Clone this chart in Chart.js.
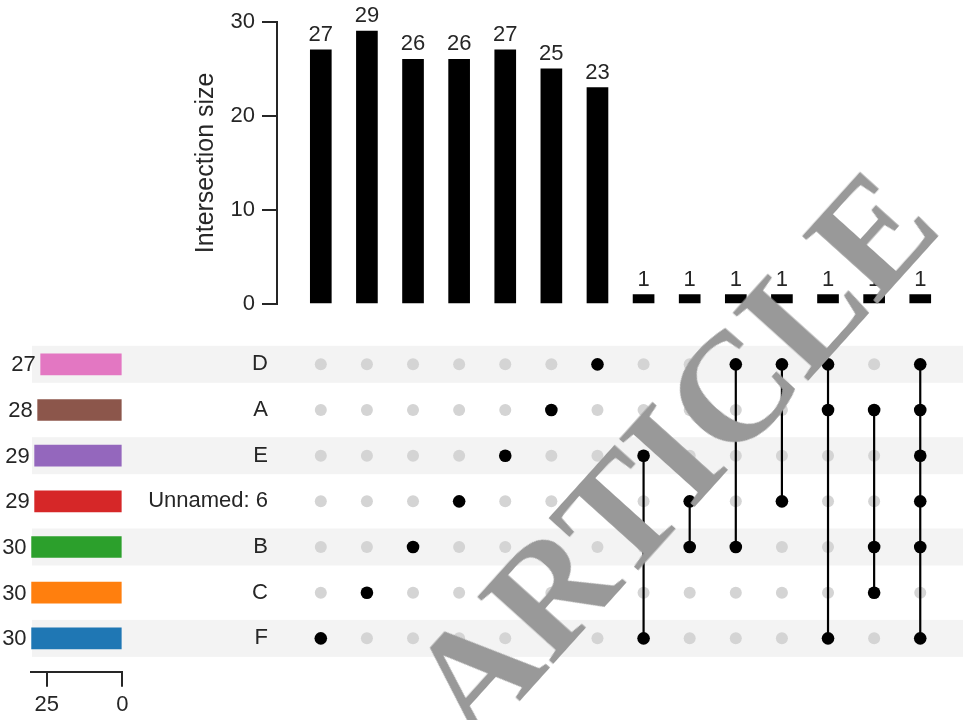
<!DOCTYPE html>
<html>
<head>
<meta charset="utf-8">
<script src="https://cdn.jsdelivr.net/npm/chart.js@4"></script>
<style>
  html, body { margin: 0; padding: 0; background: #fff; }
  #wrap { position: relative; width: 965px; height: 720px; overflow: hidden; background: #fff; }
  #wrap canvas { position: absolute; left: 0; top: 0; }
  #stamp {
    position: absolute; left: 672px; top: 455px;
    transform: translate(-50%, -50%) rotate(-48deg);
    font: bold 155px "Liberation Serif", "Times New Roman", serif;
    color: #999999; white-space: nowrap; line-height: 1; pointer-events: none;
  }
</style>
</head>
<body>
<div id="wrap">
  <canvas id="matrix" width="965" height="720"></canvas>
  <canvas id="inter" width="965" height="720"></canvas>
  <canvas id="sets" width="965" height="720"></canvas>
  <div id="stamp">ARTICLE</div>
</div>
<script>
// ---- data ----
const setNames = ['D', 'A', 'E', 'Unnamed: 6', 'B', 'C', 'F'];
const setSizes = [27, 28, 29, 29, 30, 30, 30];
const setColors = ['#e377c2', '#8c564b', '#9467bd', '#d62728', '#2ca02c', '#ff7f0e', '#1f77b4'];
const intersectionSizes = [27, 29, 26, 26, 27, 25, 23, 1, 1, 1, 1, 1, 1, 1];
const intersectionMembers = [
  ['F'], ['C'], ['B'], ['Unnamed: 6'], ['E'], ['A'], ['D'],
  ['E', 'F'], ['Unnamed: 6', 'B'], ['D', 'B'], ['D', 'Unnamed: 6'],
  ['D', 'A', 'F'], ['A', 'B', 'C'], ['D', 'A', 'E', 'Unnamed: 6', 'B', 'F']
];
const sizeTicks = [0, 10, 20, 30];
const setSizeTicks = [0, 25];

// ---- layout ----
const W = 965, H = 720;
const INK = '#262626';
const X_MIN = -0.95, X_MAX = 13.5;
const PLOT_LEFT = 277, PLOT_RIGHT = 943.3;
const ROW_TOP = 341.5, ROW_BOTTOM = 661.2;

Chart.defaults.font.family = '"Liberation Sans", Arial, Helvetica, sans-serif';
Chart.defaults.color = INK;

const common = {
  responsive: false,
  animation: false,
  events: [],
  devicePixelRatio: 1,
  plugins: { legend: { display: false }, tooltip: { enabled: false } }
};

// ---- membership matrix ----
const memberRows = intersectionMembers.map(m => m.map(n => setNames.indexOf(n)));
const grayPts = [], blackPts = [];
memberRows.forEach((rows, c) => {
  setNames.forEach((_, r) => (rows.includes(r) ? blackPts : grayPts).push({ x: c, y: r }));
});
const linkSets = memberRows
  .map((rows, c) => ({ c, rows }))
  .filter(o => o.rows.length > 1)
  .map(o => ({
    data: [{ x: o.c, y: Math.min(...o.rows) }, { x: o.c, y: Math.max(...o.rows) }],
    showLine: true, borderColor: '#000', borderWidth: 2.2, pointRadius: 0, order: 1
  }));

const rowStripes = {
  id: 'rowStripes',
  beforeDraw(chart) {
    const { ctx } = chart;
    const y = chart.scales.y;
    ctx.save();
    ctx.fillStyle = '#f3f3f3';
    setNames.forEach((_, r) => {
      if (r % 2 === 0) {
        const py = y.getPixelForValue(r);
        ctx.fillRect(32, py - 18.5, 963 - 32, 37);
      }
    });
    ctx.restore();
  }
};

new Chart(document.getElementById('matrix'), {
  type: 'scatter',
  data: {
    datasets: [
      { data: blackPts, backgroundColor: '#000', borderWidth: 0, pointRadius: 6.3, order: 0 },
      ...linkSets,
      { data: grayPts, backgroundColor: '#d4d4d4', borderWidth: 0, pointRadius: 6, order: 2 }
    ]
  },
  options: {
    ...common,
    layout: { padding: { left: 0, right: W - PLOT_RIGHT, top: ROW_TOP, bottom: H - ROW_BOTTOM } },
    scales: {
      x: { type: 'linear', display: false, offset: false, min: X_MIN, max: X_MAX },
      y: {
        type: 'linear', reverse: true, offset: false, min: -0.5, max: setNames.length - 0.5,
        afterFit: s => { s.width = PLOT_LEFT; },
        afterBuildTicks: s => { s.ticks = setNames.map((_, i) => ({ value: i })); },
        grid: { display: false, drawTicks: false },
        border: { display: false },
        ticks: { color: INK, font: { size: 22 }, padding: 9, callback: v => setNames[v] }
      }
    }
  },
  plugins: [rowStripes]
});

// ---- intersection size bars ----
const barValueLabels = {
  id: 'barValueLabels',
  afterDatasetsDraw(chart) {
    const { ctx } = chart;
    ctx.save();
    ctx.fillStyle = INK;
    ctx.font = '22px "Liberation Sans", Arial, sans-serif';
    ctx.textAlign = 'center';
    ctx.textBaseline = 'alphabetic';
    chart.getDatasetMeta(0).data.forEach((bar, i) => {
      ctx.fillText(String(intersectionSizes[i]), bar.x, bar.y - 9);
    });
    ctx.restore();
  }
};

new Chart(document.getElementById('inter'), {
  type: 'bar',
  data: {
    datasets: [{
      data: intersectionSizes.map((v, i) => ({ x: i, y: v })),
      backgroundColor: '#000', barThickness: 21
    }]
  },
  options: {
    ...common,
    layout: { padding: { left: 0, right: W - PLOT_RIGHT, top: 21.7, bottom: H - 304 } },
    scales: {
      x: { type: 'linear', display: false, offset: false, min: X_MIN, max: X_MAX, grid: { offset: false } },
      y: {
        min: 0, max: 30,
        afterFit: s => { s.width = PLOT_LEFT; },
        afterBuildTicks: s => { s.ticks = sizeTicks.map(v => ({ value: v })); },
        grid: { drawOnChartArea: false, color: INK, lineWidth: 2, tickLength: 15 },
        border: { display: true, color: INK, width: 2 },
        ticks: { color: INK, font: { size: 22 }, padding: 7 },
        title: {
          display: true, text: 'Intersection size', color: INK,
          font: { size: 25 }, padding: { top: 191, bottom: 0 }
        }
      }
    }
  },
  plugins: [barValueLabels]
});

// ---- set size bars ----
const setValueLabels = {
  id: 'setValueLabels',
  afterDatasetsDraw(chart) {
    const { ctx } = chart;
    ctx.save();
    ctx.fillStyle = INK;
    ctx.font = '22px "Liberation Sans", Arial, sans-serif';
    ctx.textAlign = 'right';
    ctx.textBaseline = 'middle';
    chart.getDatasetMeta(0).data.forEach((bar, i) => {
      ctx.fillText(String(setSizes[i]), bar.x - 5, bar.y + 1);
    });
    ctx.restore();
  }
};

new Chart(document.getElementById('sets'), {
  type: 'bar',
  data: {
    datasets: [{
      data: setSizes.map((v, i) => ({ x: v, y: i })),
      backgroundColor: setColors, borderWidth: 0, barThickness: 21
    }]
  },
  options: {
    ...common,
    indexAxis: 'y',
    layout: { padding: { left: 30.7, right: W - 122.3, top: ROW_TOP, bottom: 0.3 } },
    scales: {
      x: {
        type: 'linear', reverse: true, min: 0, max: 30.3,
        afterFit: s => { s.height = 48; },
        afterBuildTicks: s => { s.ticks = setSizeTicks.map(v => ({ value: v })); },
        grid: { drawOnChartArea: false, color: INK, lineWidth: 2, tickLength: 15 },
        border: { display: true, color: INK, width: 2 },
        ticks: { color: INK, font: { size: 22 }, padding: 5 }
      },
      y: { type: 'linear', reverse: true, offset: false, min: -0.5, max: 6.73, display: false, grid: { offset: false } }
    }
  },
  plugins: [setValueLabels]
});
</script>
</body>
</html>
